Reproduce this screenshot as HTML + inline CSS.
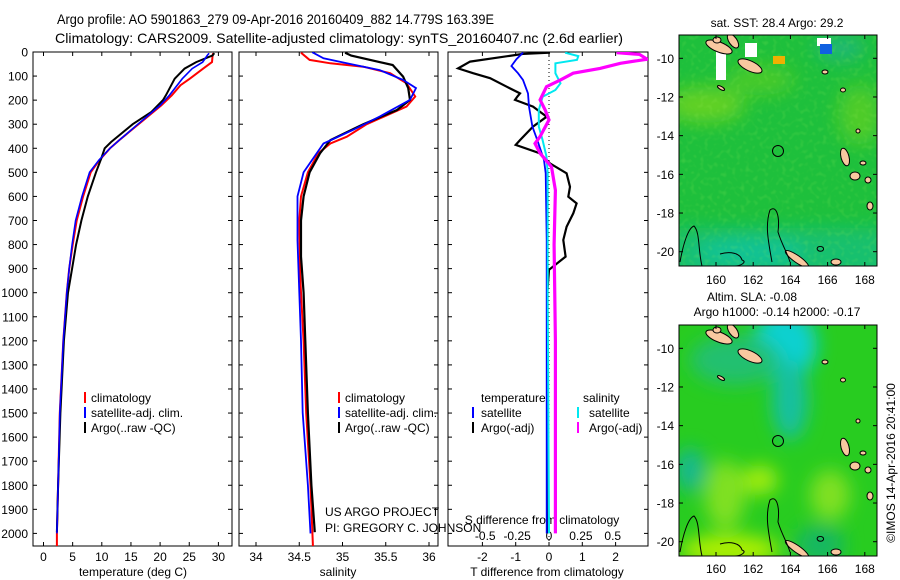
<!DOCTYPE html>
<html><head><meta charset="utf-8"><style>
html,body{margin:0;padding:0;background:#fff;}
svg{display:block;font-family:"Liberation Sans",sans-serif;}
</style></head><body>
<svg id="fig" width="900" height="580" viewBox="0 0 900 580" xmlns="http://www.w3.org/2000/svg">
<defs>
<clipPath id="cp1"><rect x="33" y="52" width="199" height="494"/></clipPath>
<clipPath id="cp2"><rect x="239" y="52" width="199" height="494"/></clipPath>
<clipPath id="cp3"><rect x="448" y="52" width="200" height="494"/></clipPath>
<clipPath id="cm1"><rect x="679" y="35" width="198" height="231"/></clipPath>
<clipPath id="cm2"><rect x="679" y="325" width="198" height="231"/></clipPath>
<filter id="blur" x="-20%" y="-20%" width="140%" height="140%"><feGaussianBlur stdDeviation="9"/></filter>
<filter id="mottle" x="0" y="0" width="100%" height="100%">
 <feTurbulence type="fractalNoise" baseFrequency="0.22" numOctaves="1" seed="3" result="n"/>
 <feColorMatrix in="n" type="matrix" values="0 0 0 0 0.3  0 0 0 0 0.85  0 0 0 0 0.1  0 0 0 1.2 -0.6"/>
</filter>
<g id="islands">
 <ellipse cx="719" cy="47" rx="14" ry="5" transform="rotate(22 719 47)" fill="#f8c8a0" stroke="#000" stroke-width="1"/>
 <ellipse cx="733" cy="41" rx="4" ry="8" transform="rotate(-35 733 41)" fill="#f8c8a0" stroke="#000" stroke-width="1"/>
 <ellipse cx="750" cy="66" rx="13" ry="5" transform="rotate(25 750 66)" fill="#f8c8a0" stroke="#000" stroke-width="1"/>
 <ellipse cx="717" cy="40" rx="4" ry="3" fill="#f8c8a0" stroke="#000" stroke-width="1"/>
 <ellipse cx="721" cy="88" rx="4" ry="1.5" transform="rotate(30 721 88)" fill="#f8c8a0" stroke="#000" stroke-width="1"/>
 <ellipse cx="825" cy="72" rx="3" ry="2" fill="#f8c8a0" stroke="#000" stroke-width="1"/>
 <ellipse cx="843" cy="90" rx="2.5" ry="2" fill="#f8c8a0" stroke="#000" stroke-width="1"/>
 <ellipse cx="858" cy="131" rx="2" ry="2" fill="#f8c8a0" stroke="#000" stroke-width="1"/>
 <ellipse cx="845" cy="157" rx="4" ry="9" transform="rotate(-15 845 157)" fill="#f8c8a0" stroke="#000" stroke-width="1"/>
 <ellipse cx="855" cy="176" rx="5" ry="4" fill="#f8c8a0" stroke="#000" stroke-width="1"/>
 <ellipse cx="863" cy="163" rx="3" ry="2" fill="#f8c8a0" stroke="#000" stroke-width="1"/>
 <ellipse cx="868" cy="180" rx="3" ry="3" fill="#f8c8a0" stroke="#000" stroke-width="1"/>
 <ellipse cx="870" cy="206" rx="3" ry="4" fill="#f8c8a0" stroke="#000" stroke-width="1"/>
 <ellipse cx="797" cy="259" rx="14" ry="3.5" transform="rotate(35 797 259)" fill="#f8c8a0" stroke="#000" stroke-width="1"/>
 <ellipse cx="836" cy="262" rx="5" ry="3" fill="#f8c8a0" stroke="#000" stroke-width="1"/>
 <path d="M772,262 C768,240 765,225 770,210 C776,205 780,215 778,232 C782,245 787,252 790,262" fill="none" stroke="#000" stroke-width="1"/>
 <path d="M680,262 C683,245 688,228 694,226 C700,232 698,250 702,266" fill="none" stroke="#000" stroke-width="1"/>
 <path d="M720,254 C730,251 740,253 742,260 C748,262 740,266 735,266" fill="none" stroke="#000" stroke-width="1"/>
 <path d="M818,247 C822,245 826,249 822,251 C818,252 816,249 818,247Z" fill="none" stroke="#000" stroke-width="1"/>
 <circle cx="778" cy="151" r="5.5" fill="none" stroke="#000" stroke-width="1"/>
</g>
</defs>

<text x="57" y="24" font-size="14" textLength="437" lengthAdjust="spacingAndGlyphs">Argo profile: AO 5901863_279 09-Apr-2016 20160409_882 14.779S 163.39E</text>
<text x="55" y="43" font-size="14" textLength="568" lengthAdjust="spacingAndGlyphs">Climatology: CARS2009. Satellite-adjusted climatology: synTS_20160407.nc (2.6d earlier)</text>

<g id="panels"></g>

<g>
 <text x="777" y="27" font-size="12" text-anchor="middle">sat. SST: 28.4 Argo: 29.2</text>
 <g clip-path="url(#cm1)">
  <rect x="679" y="35" width="198" height="231" fill="#1ec03c"/>
  <g filter="url(#blur)">
   <ellipse cx="705" cy="105" rx="40" ry="18" fill="#90dc10" opacity="0.6"/>
   <ellipse cx="760" cy="80" rx="35" ry="15" fill="#70d418" opacity="0.5"/>
   <ellipse cx="860" cy="115" rx="22" ry="30" fill="#80d818" opacity="0.5"/>
   <rect x="670" y="228" width="220" height="60" fill="#18c090" opacity="0.6"/>
   <ellipse cx="750" cy="252" rx="55" ry="15" fill="#10c4b0" opacity="0.6"/>
   <ellipse cx="840" cy="48" rx="25" ry="12" fill="#20b0a0" opacity="0.6"/>
  </g>
  <rect x="679" y="35" width="198" height="231" filter="url(#mottle)" opacity="0.5"/>
  <rect x="716" y="44" width="10" height="36" fill="#fff"/>
  <rect x="745" y="43" width="12" height="14" fill="#fff"/>
  <rect x="817" y="38" width="14" height="8" fill="#fff"/>
  <rect x="820" y="44" width="12" height="10" fill="#1060e0"/>
  <rect x="773" y="56" width="12" height="8" fill="#f0b000"/>
  <use href="#islands"/>
 </g>
 <rect x="679" y="35" width="198" height="231" fill="none" stroke="#000" stroke-width="1"/>
 <g id="map1ticks"></g>
</g>
<g>
 <text x="752" y="301" font-size="12" text-anchor="middle">Altim. SLA: -0.08</text>
 <text x="777" y="316" font-size="12" text-anchor="middle">Argo h1000: -0.14 h2000: -0.17</text>
 <g clip-path="url(#cm2)">
  <rect x="679" y="325" width="198" height="231" fill="#28cc20"/>
  <g filter="url(#blur)">
   <ellipse cx="785" cy="345" rx="32" ry="35" fill="#10d0d0"/>
   <ellipse cx="790" cy="400" rx="18" ry="40" fill="#14c0a0"/>
   <ellipse cx="735" cy="360" rx="45" ry="25" fill="#20c070"/>
   <ellipse cx="690" cy="470" rx="15" ry="22" fill="#14b890"/>
   <ellipse cx="760" cy="480" rx="18" ry="15" fill="#a0ec10"/>
   <ellipse cx="725" cy="495" rx="20" ry="35" fill="#80e020"/>
   <ellipse cx="830" cy="495" rx="20" ry="25" fill="#80e020"/>
   <ellipse cx="730" cy="550" rx="50" ry="15" fill="#b0f000"/>
   <ellipse cx="820" cy="545" rx="25" ry="20" fill="#18b860"/>
  </g>
  <use href="#islands" transform="translate(0,290)"/>
 </g>
 <rect x="679" y="325" width="198" height="231" fill="none" stroke="#000" stroke-width="1"/>
 <g id="map2ticks"></g>
</g>
<text transform="translate(895,463) rotate(-90)" font-size="12" text-anchor="middle">©IMOS 14-Apr-2016 20:41:00</text>

<script>
var depthTicks = [0,100,200,300,400,500,600,700,800,900,1000,1100,1200,1300,1400,1500,1600,1700,1800,1900,2000];
var tempTicks = [0,5,10,15,20,25,30];
var salTicks = [34,34.5,35,35.5,36];
var salTickLabels = ["34","34.5","35","35.5","36"];
var tdiffTicks = [-2,-1,0,1,2];
var sdiffTicks = [-0.5,-0.25,0,0.25,0.5];
var sdiffTickLabels = ["-0.5","-0.25","0","0.25","0.5"];

var tArgoDepth = [5,14,42,69,111,180,200,249,300,374,400,443,500,600,700,800,900,1000,1200,1500,1800,1995];
var tArgo      = [29.3,29.0,26.2,24.2,22.5,21.0,20.5,18.5,15.3,11.6,10.5,9.9,9.0,7.6,6.5,5.6,4.9,4.2,3.5,2.9,2.5,2.3];
var tClimDepth = [5,14,42,69,111,138,180,222,300,366,400,449,500,600,700,800,900,1000,1200,1500,1800,2000,2070];
var tClim      = [29.1,29.0,28.9,27.4,25.1,23.5,22.0,20.2,16.3,13.0,11.4,9.6,8.1,6.8,5.7,5.0,4.4,4.0,3.4,2.8,2.5,2.3,2.3];
var tSatDepth  = [5,14,42,69,111,180,222,300,366,400,449,500,600,700,800,900,1000,1200,1500,1800,2000];
var tSat       = [28.4,28.1,27.3,25.5,23.8,21.6,20.0,16.2,13.0,11.4,9.5,7.9,6.6,5.5,4.9,4.4,4.0,3.4,2.8,2.5,2.3];

var sArgoDepth = [3,15,54,102,150,199,241,300,366,421,500,600,700,850,1000,1200,1500,1800,1995];
var sArgo      = [35.03,35.1,35.58,35.70,35.76,35.78,35.63,35.24,34.86,34.74,34.62,34.55,34.52,34.52,34.55,34.57,34.6,34.64,34.68];
var sClimDepth = [3,33,47,61,88,130,185,227,300,352,380,421,500,600,700,920,1000,1200,1500,1800,2070];
var sClim      = [34.52,34.62,34.86,35.24,35.55,35.74,35.84,35.74,35.28,35.05,34.86,34.72,34.6,34.52,34.5,34.51,34.52,34.55,34.58,34.63,34.66];
var sSatDepth  = [1,26,47,75,116,150,199,268,324,380,500,600,783,1000,1200,1500,1800,2000];
var sSat       = [34.65,34.78,35.05,35.43,35.7,35.85,35.78,35.43,35.12,34.78,34.55,34.48,34.48,34.5,34.52,34.54,34.6,34.63];

var dTArgoDepth = [3,8,40,68,88,109,144,172,185,199,227,269,310,366,386,421,463,504,560,601,629,670,726,781,850,905,1000,1200,1500,1800,2000];
var dTArgo      = [0.03,-0.78,-2.37,-2.73,-2.28,-1.77,-1.27,-0.87,-0.95,-1.02,-0.48,-0.07,-0.48,-0.87,-1.0,-0.27,0.03,0.53,0.63,0.58,0.83,0.73,0.53,0.43,0.5,0.0,-0.05,-0.05,-0.05,-0.05,-0.05];
var dTSatDepth  = [3,30,58,88,116,172,227,310,366,449,504,781,1000,1500,2000];
var dTSat       = [-0.78,-0.98,-1.13,-0.93,-0.78,-0.63,-0.6,-0.5,-0.35,-0.15,-0.1,-0.07,-0.07,-0.07,-0.07];
var dSSatDepth  = [3,17,33,47,88,130,158,186,241,310,366,435,504,1000,2000];
var dSSat       = [0.126,0.23,0.22,0.05,0.05,0.09,0.05,-0.05,-0.08,-0.08,-0.05,-0.02,-0.01,-0.01,0.0];
var dSArgoDepth = [3,10,30,47,68,88,116,144,199,241,282,351,380,421,477,574,800,1200,1600,2000];
var dSArgo      = [0.53,0.71,0.77,0.56,0.4,0.19,0.09,-0.02,-0.07,-0.03,0.0,-0.07,-0.11,-0.07,0.02,0.05,0.04,0.05,0.05,0.05];

var latTicks = [-10,-12,-14,-16,-18,-20];
var lonTicks = [160,162,164,166,168];

var NS = "http://www.w3.org/2000/svg";
var root = document.getElementById("panels");
function mk(tag, attrs, parent){ var e=document.createElementNS(NS,tag); for(var k in attrs) e.setAttribute(k,attrs[k]); (parent||root).appendChild(e); return e; }
function yD(d){ return 52 + d*0.2407; }
function xT(t){ return 43.5 + t*5.83; }
function xS(s){ return 256 + (s-34)*86.5; }
function xDT(v){ return 549 + v*33.3; }
function xDS(v){ return 549 + v*127.5; }
function lonX(l){ return 716 + (l-160)*18.6; }
function latY(l, off){ return 58.3 + off + (-10-l)*19.34; }

function line(vals, depths, xf, color, w, clip, name){
  var pts = vals.map(function(v,i){ return xf(v).toFixed(1)+","+yD(depths[i]).toFixed(1); }).join(" ");
  var p = mk("polyline",{points:pts,fill:"none",stroke:color,"stroke-width":w,"stroke-linejoin":"miter","clip-path":"url(#"+clip+")"});
  
  
}
function txt(x,y,s,anchor,size,name){
  var t = mk("text",{x:x,y:y,"font-size":size||12,"text-anchor":anchor||"start"});
  t.textContent = s;
  
  
  return t;
}
function frame(x,y,w,h,name){
  var r = mk("rect",{x:x,y:y,width:w,height:h,fill:"none",stroke:"#000","stroke-width":1});
  
  
}
function bar(x,y,color,name){
  var r = mk("rect",{x:x,y:y-10,width:2,height:11,fill:color});
  
  
}

frame(33,52,199,494,"temperature-panel");
frame(239,52,199,494,"salinity-panel");
frame(448,52,200,494,"difference-panel");
depthTicks.forEach(function(d){
  var y=yD(d);
  [[33,1],[232,-1],[239,1],[438,-1],[448,1],[648,-1]].forEach(function(p){
    mk("line",{x1:p[0],y1:y,x2:p[0]+4*p[1],y2:y,stroke:"#000","stroke-width":1});
  });
  txt(28,y+4.5,String(d),"end",12,"depth-tick-label");
});
tempTicks.forEach(function(t){
  var x=xT(t);
  mk("line",{x1:x,y1:52,x2:x,y2:56,stroke:"#000"}); mk("line",{x1:x,y1:546,x2:x,y2:542,stroke:"#000"});
  txt(x,561,String(t),"middle",12,"temperature-tick-label");
});
salTicks.forEach(function(s,i){
  var x=xS(s);
  mk("line",{x1:x,y1:52,x2:x,y2:56,stroke:"#000"}); mk("line",{x1:x,y1:546,x2:x,y2:542,stroke:"#000"});
  txt(x,561,salTickLabels[i],"middle",12,"salinity-tick-label");
});
tdiffTicks.forEach(function(v){
  var x=xDT(v);
  mk("line",{x1:x,y1:52,x2:x,y2:56,stroke:"#000"}); mk("line",{x1:x,y1:546,x2:x,y2:542,stroke:"#000"});
  txt(x,561,String(v),"middle",12,"t-difference-tick-label");
});
sdiffTicks.forEach(function(v,i){
  txt(xDS(v),540,sdiffTickLabels[i],"middle",12,"s-difference-tick-label");
});
txt(133,576,"temperature (deg C)","middle",12,"x-axis-title-temperature");
txt(338,576,"salinity","middle",12,"x-axis-title-salinity");
txt(547,576,"T difference from climatology","middle",12,"x-axis-title-t-difference");
txt(542,524,"S difference from climatology","middle",12,"x-axis-title-s-difference");

var zl = mk("line",{x1:549,y1:52,x2:549,y2:546,stroke:"#000","stroke-width":1,"stroke-dasharray":"1,3"});



line(tClim,tClimDepth,xT,"#ff0000",2,"cp1","temperature-climatology-line");
line(tArgo,tArgoDepth,xT,"#000",2,"cp1","temperature-argo-line");
line(tSat,tSatDepth,xT,"#0000ff",1.6,"cp1","temperature-satellite-line");
line(sClim,sClimDepth,xS,"#ff0000",2,"cp2","salinity-climatology-line");
line(sArgo,sArgoDepth,xS,"#000",2.2,"cp2","salinity-argo-line");
line(sSat,sSatDepth,xS,"#0000ff",1.8,"cp2","salinity-satellite-line");
line(dTArgo,dTArgoDepth,xDT,"#000",2.2,"cp3","t-difference-argo-line");
line(dTSat,dTSatDepth,xDT,"#0000ff",1.8,"cp3","t-difference-satellite-line");
line(dSSat,dSSatDepth,xDS,"#00e8f0",2,"cp3","s-difference-satellite-line");
line(dSArgo,dSArgoDepth,xDS,"#ff00ff",3.2,"cp3","s-difference-argo-line");

bar(84,402,"#ff0000","legend-climatology-marker"); txt(91,402,"climatology","start",12,"legend-climatology");
bar(84,417,"#0000ff","legend-satellite-marker"); txt(91,417,"satellite-adj. clim.","start",12,"legend-satellite");
bar(84,432,"#000","legend-argo-marker"); txt(91,432,"Argo(..raw -QC)","start",12,"legend-argo");
bar(338,402,"#ff0000","legend2-climatology-marker"); txt(345,402,"climatology","start",12,"legend2-climatology");
bar(338,417,"#0000ff","legend2-satellite-marker"); txt(345,417,"satellite-adj. clim.","start",12,"legend2-satellite");
bar(338,432,"#000","legend2-argo-marker"); txt(345,432,"Argo(..raw -QC)","start",12,"legend2-argo");
txt(481,402,"temperature","start",12,"legend3-temperature-header");
txt(583,402,"salinity","start",12,"legend3-salinity-header");
bar(472,417,"#0000ff","legend3-t-satellite-marker"); txt(481,417,"satellite","start",12,"legend3-t-satellite");
bar(472,432,"#000","legend3-t-argo-marker"); txt(481,432,"Argo(-adj)","start",12,"legend3-t-argo");
bar(577,417,"#00e8f0","legend3-s-satellite-marker"); txt(589,417,"satellite","start",12,"legend3-s-satellite");
bar(577,432,"#ff00ff","legend3-s-argo-marker"); txt(589,432,"Argo(-adj)","start",12,"legend3-s-argo");
txt(325,516,"US ARGO PROJECT","start",12,"project-credit");
txt(325,532,"PI: GREGORY C. JOHNSON","start",12,"pi-credit");

[[0,"map1ticks",35,266,280],[290,"map2ticks",325,556,569]].forEach(function(m){
  var g=document.getElementById(m[1]);
  latTicks.forEach(function(l){
    var y=latY(l,m[0]);
    mk("line",{x1:679,y1:y,x2:683,y2:y,stroke:"#000"},g); mk("line",{x1:877,y1:y,x2:873,y2:y,stroke:"#000"},g);
    var t=mk("text",{x:674,y:y+4.5,"font-size":12,"text-anchor":"end"},g); t.textContent=String(l);
    
    
  });
  lonTicks.forEach(function(l){
    var x=lonX(l);
    mk("line",{x1:x,y1:m[2],x2:x,y2:m[2]+4,stroke:"#000"},g); mk("line",{x1:x,y1:m[3],x2:x,y2:m[3]-4,stroke:"#000"},g);
    var t=mk("text",{x:x,y:m[4]+4,"font-size":12,"text-anchor":"middle"},g); t.textContent=String(l);
    
    
  });
});
</script>
</svg>
</body></html>
